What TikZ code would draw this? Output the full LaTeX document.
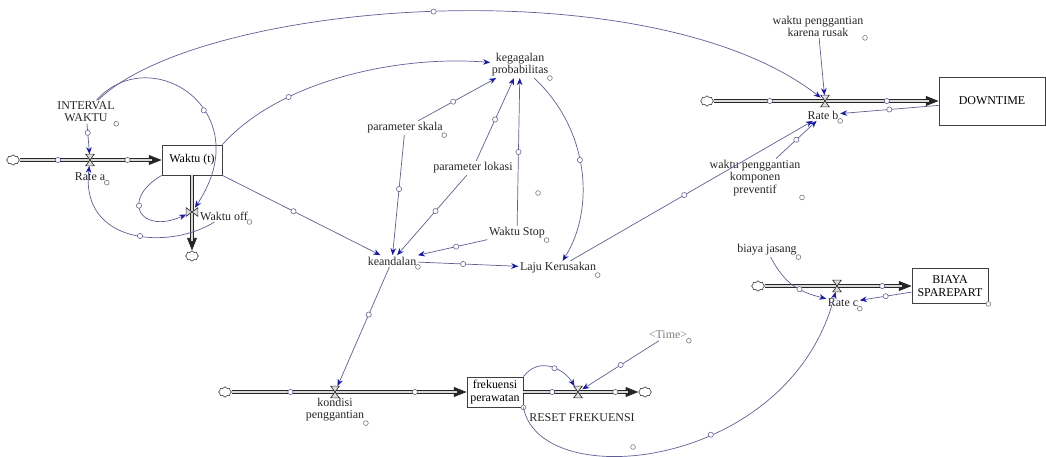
\documentclass[tikz,border=0pt]{standalone}
\usepackage{fontspec}
\setmainfont{Liberation Serif}
\usetikzlibrary{arrows.meta, shapes.symbols, calc}
\definecolor{linkc}{RGB}{95,95,150}
\definecolor{tipc}{RGB}{25,25,170}
\tikzstyle{stock} = [rectangle, draw=black!75, fill=white, line width=0.6pt, align=center, inner sep=2pt, font=\fontsize{8.5}{9}\selectfont]
\tikzstyle{aux} = [align=center, inner sep=1pt, text=black!85, font=\fontsize{8.5}{8.5}\selectfont]
\tikzstyle{src} = [cloud, cloud puffs=8, draw=black!80, fill=white, minimum width=0.32cm, minimum height=0.26cm, inner sep=0pt]
\tikzstyle{vlv} = [rectangle, inner sep=0pt, minimum width=0.2cm, minimum height=0.28cm]
\tikzstyle{vlvv} = [rectangle, inner sep=0pt, minimum width=0.28cm, minimum height=0.2cm]
\tikzstyle{vshape} = [draw=black!80, fill=gray!25, line width=0.5pt]
\tikzstyle{pipe} = [draw=black!85, double=gray!30, double distance=1.8pt, line width=0.55pt, shorten >=7pt]
\tikzstyle{pipetip} = [draw=black!85, line width=0.6pt, -{Triangle[length=9pt,width=7pt]}]
\tikzstyle{link} = [draw=linkc, line width=0.5pt, -{Stealth[length=5pt,width=4pt,color=tipc]}]
\tikzstyle{hnd} = [circle, draw=linkc, fill=white, inner sep=0pt, minimum size=0.13cm, line width=0.4pt]
\tikzstyle{dot} = [circle, draw=black!55, fill=white, inner sep=0pt, minimum size=0.12cm, line width=0.4pt]

\begin{document}
\begin{tikzpicture}[x=0.025cm, y=-0.025cm]
\useasboundingbox (0,0) rectangle (1046,457);

% stocks
\node (waktuT) [stock, minimum width=1.5cm, minimum height=0.75cm] at (192,160) {Waktu (t)};
\node (downtime) [stock, minimum width=2.65cm, minimum height=1.2cm] at (992,101) {DOWNTIME};
\node (biaya) [stock, minimum width=1.9cm, minimum height=0.875cm] at (950,286) {BIAYA\\SPAREPART};
\node (frekuensi) [stock, minimum width=1.4cm, minimum height=0.75cm] at (495,392) {frekuensi\\perawatan};

% sources and sinks
\node (cloudA) [src] at (13,160) {};
\node (cloudAo) [src] at (192,256) {};
\node (cloudB) [src] at (707,101) {};
\node (cloudC) [src] at (758,286) {};
\node (cloudD) [src] at (225,392) {};
\node (cloudDo) [src] at (645,392) {};

% valves
\node (valveA) [vlv] at (90,160) {};
\node (valveOff) [vlvv] at (192,212) {};
\node (valveB) [vlv] at (825,101) {};
\node (valveC) [vlv] at (837,286) {};
\node (valveD) [vlv] at (335,392) {};
\node (valveR) [vlv] at (578,392) {};

% variables
\node (interval) [aux] at (86,112) {INTERVAL\\WAKTU};
\node (rateA) [aux] at (90,177) {Rate a};
\node (waktuOff) [aux] at (224,216) {Waktu off};
\node (kegagalan) [aux] at (520,65) {kegagalan\\probabilitas};
\node (pSkala) [aux] at (405,128) {parameter skala};
\node (pLokasi) [aux] at (473,168) {parameter lokasi};
\node (waktuStop) [aux] at (517,233) {Waktu Stop};
\node (keandalan) [aux] at (392,261) {keandalan};
\node (laju) [aux] at (558,268) {Laju Kerusakan};
\node (rusak) [aux] at (818,26) {waktu penggantian\\karena rusak};
\node (preventif) [aux, font=\fontsize{8.5}{6.5}\selectfont] at (755,178) {waktu penggantian\\komponen\\preventif};
\node (rateB) [aux] at (823,115) {Rate b};
\node (biayaJasa) [aux] at (767,250) {biaya jasang};
\node (rateC) [aux] at (843,303) {Rate c};
\node (time) [aux, text=gray] at (668,335) {\textless Time\textgreater};
\node (kondisi) [aux] at (335,410) {kondisi\\penggantian};
\node (reset) [aux] at (582,418) {RESET FREKUENSI};

\foreach \n in {interval,rateA,waktuOff,kegagalan,pSkala,waktuStop,keandalan,laju,rusak,preventif,rateB,biayaJasa,rateC,time,kondisi,biaya,frekuensi}
  \node[dot] (o\n) at (\n.south east) {};
\node[dot] (oReset) at (633,447) {};
\node[dot] (oLone) at (538,193) {};

% flows
\draw[pipetip] (cloudA) -- (waktuT);
\draw[pipe] (cloudA) -- (waktuT) node[hnd, pos=0.27] (hA1) {} node[hnd, pos=0.76] (hA2) {};
\draw[pipetip] (waktuT) -- (cloudAo);
\draw[pipe] (waktuT) -- (cloudAo);
\draw[pipetip] (cloudB) -- (downtime);
\draw[pipe] (cloudB) -- (downtime) node[hnd, pos=0.25] (hB1) {} node[hnd, pos=0.77] (hB2) {};
\draw[pipetip] (cloudC) -- (biaya);
\draw[pipe] (cloudC) -- (biaya) node[hnd, pos=0.8] (hC1) {};
\draw[pipetip] (cloudD) -- (frekuensi);
\draw[pipe] (cloudD) -- (frekuensi) node[hnd, pos=0.25] (hD1) {} node[hnd, pos=0.78] (hD2) {};
\draw[pipetip] (frekuensi) -- (cloudDo);
\draw[pipe] (frekuensi) -- (cloudDo) node[hnd, pos=0.25] (hR1) {} node[hnd, pos=0.8] (hR2) {};

\foreach \v in {valveA,valveB,valveC,valveD,valveR}
  \draw[vshape] (\v.north west) -- (\v.north east) -- (\v.south west) -- (\v.south east) -- cycle;
\draw[vshape] (valveOff.north west) -- (valveOff.south west) -- (valveOff.north east) -- (valveOff.south east) -- cycle;

% links, left part
\draw[link] (interval) -- (valveA) node[hnd, pos=0.3] (h1) {};
\draw[link] (interval) .. controls (150,40) and (260,110) .. (valveOff) node[hnd, pos=0.6] (h2) {};
\draw[link] (waktuOff) .. controls (170,250) and (80,245) .. (valveA) node[hnd, pos=0.45] (h3) {};
\draw[link] (waktuT.south west) .. controls (120,200) and (140,235) .. (valveOff) node[hnd, pos=0.4] (h4) {};
\draw[link] (waktuT.north east) .. controls (280,80) and (400,55) .. (kegagalan) node[hnd, pos=0.3] (h5) {};
\draw[link] (waktuT.south east) -- (keandalan) node[hnd, pos=0.45] (h6) {};
\draw[link] (interval) .. controls (200,0) and (650,-35) .. (valveB) node[hnd, pos=0.5] (h7) {};

% links, middle
\draw[link] (pSkala) -- (kegagalan) node[hnd, pos=0.45] (h8) {};
\draw[link] (pLokasi) -- (kegagalan) node[hnd, pos=0.5] (h9) {};
\draw[link] (waktuStop) -- (kegagalan) node[hnd, pos=0.5] (h10) {};
\draw[link] (kegagalan) .. controls (590,130) and (595,210) .. (laju) node[hnd, pos=0.45] (h11) {};
\draw[link] (pSkala) -- (keandalan) node[hnd, pos=0.45] (h12) {};
\draw[link] (pLokasi) -- (keandalan) node[hnd, pos=0.45] (h13) {};
\draw[link] (waktuStop) -- (keandalan) node[hnd, pos=0.45] (h14) {};
\draw[link] (keandalan) -- (laju) node[hnd, pos=0.45] (h15) {};
\draw[link] (keandalan) -- (valveD) node[hnd, pos=0.4] (h16) {};

% links, right part
\draw[link] (laju) -- (rateB) node[hnd, pos=0.47] (h17) {};
\draw[link] (preventif) -- (rateB) node[hnd, pos=0.5] (h18) {};
\draw[link] (rusak) -- (valveB);
\draw[link] (downtime) -- (rateB) node[hnd, pos=0.5] (h19) {};
\draw[link] (frekuensi.north east) .. controls (540,355) and (565,370) .. (valveR) node[hnd, pos=0.55] (h20) {};
\draw[link] (time) -- (valveR) node[hnd, pos=0.5] (h21) {};
\draw[link] (biayaJasa) .. controls (785,285) and (800,292) .. (rateC) node[hnd, pos=0.6] (h22) {};
\draw[link] (biaya) -- (rateC) node[hnd, pos=0.5] (h23) {};
\draw[link] (frekuensi.south east) .. controls (540,495) and (790,470) .. (valveC) node[hnd, pos=0.6] (h24) {};

\end{tikzpicture}
\end{document}
